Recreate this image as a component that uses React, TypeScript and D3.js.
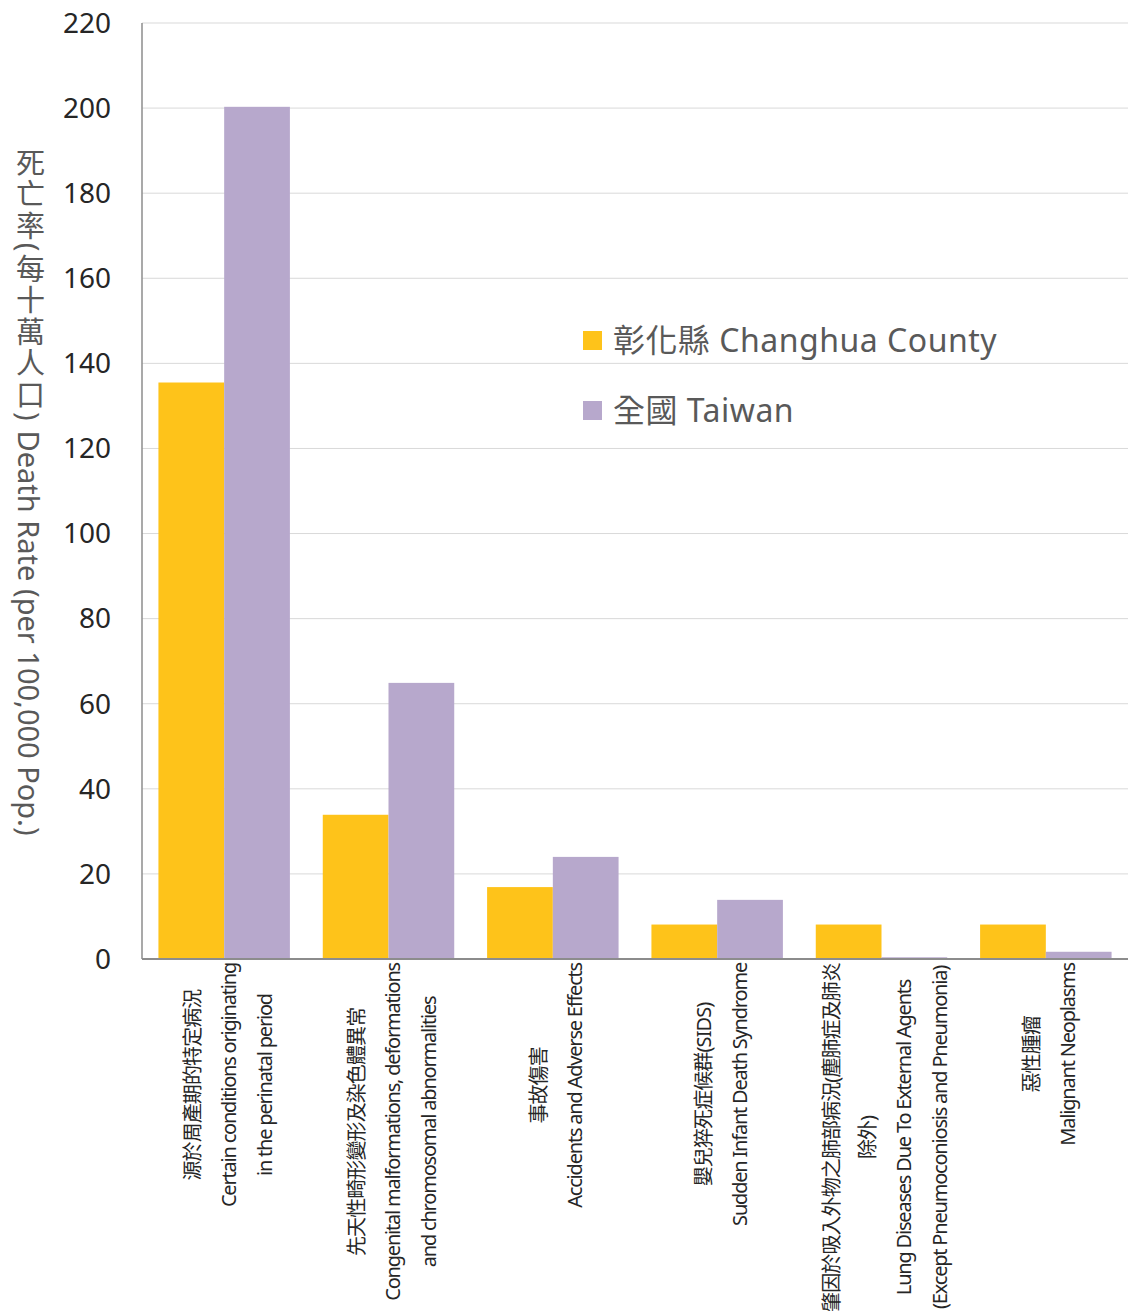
import React, { useEffect, useRef } from "react";
import * as d3 from "d3";

const categories = ["perinatal", "congenital", "accidents", "sids", "lung", "malignant"];
const categoryLabels: string[][] = [
  ["源於周產期的特定病況", "Certain conditions originating", "in the perinatal period"],
  ["先天性畸形變形及染色體異常", "Congenital malformations, deformations", "and chromosomal abnormalities"],
  ["事故傷害", "Accidents and Adverse Effects"],
  ["嬰兒猝死症候群(SIDS)", "Sudden Infant Death Syndrome"],
  ["肇因於吸入外物之肺部病況(塵肺症及肺炎", "除外)", "Lung Diseases Due To External Agents", "(Except Pneumoconiosis and Pneumonia)"],
  ["惡性腫瘤", "Malignant Neoplasms"],
];
const changhua = [135.5, 33.9, 16.9, 8.1, 8.1, 8.1];
const taiwan = [200.3, 64.9, 24.0, 13.9, 0.4, 1.7];
const seriesNames = ["彰化縣 Changhua County", "全國 Taiwan"];
const seriesColors = ["#FEC31A", "#B7A8CC"];
const yTicks = [0, 20, 40, 60, 80, 100, 120, 140, 160, 180, 200, 220];
const yTitleZh = "死亡率(每十萬人口)";
const yTitleEn = " Death Rate (per 100,000 Pop.)";

const W = 1128;
const H = 1311;
const FONT = "'Noto Sans', 'Noto Sans CJK TC', sans-serif";

export default function App() {
  const ref = useRef<SVGSVGElement>(null);

  useEffect(() => {
    const svg = d3.select(ref.current);
    svg.selectAll("*").remove();
    const left = 142, right = 1128, top = 23, bottom = 959;

    const y = d3.scaleLinear().domain([0, 220]).range([bottom, top]);
    const x0 = d3.scaleBand().domain(categories).range([left, right]).paddingInner(0.2).paddingOuter(0.1);
    const x1 = d3.scaleBand().domain(["c", "t"]).range([0, x0.bandwidth()]);

    // gridlines
    svg.append("g").selectAll("line").data(yTicks.filter((t) => t > 0)).join("line")
      .attr("x1", left).attr("x2", right)
      .attr("y1", (d) => y(d)).attr("y2", (d) => y(d))
      .attr("stroke", "#d9d9d9").attr("stroke-width", 1);

    // bars
    const g = svg.append("g");
    categories.forEach((c, i) => {
      const vals = [changhua[i], taiwan[i]];
      ["c", "t"].forEach((k, j) => {
        g.append("rect")
          .attr("x", (x0(c) as number) + (x1(k) as number))
          .attr("width", x1.bandwidth())
          .attr("y", y(vals[j]))
          .attr("height", y(0) - y(vals[j]))
          .attr("fill", seriesColors[j]);
      });
    });

    // axes
    svg.append("line").attr("x1", left).attr("x2", left).attr("y1", top).attr("y2", bottom)
      .attr("stroke", "#8c8c8c").attr("stroke-width", 1.5);
    svg.append("line").attr("x1", left).attr("x2", right).attr("y1", bottom).attr("y2", bottom)
      .attr("stroke", "#8c8c8c").attr("stroke-width", 2);

    // y tick labels
    svg.append("g").selectAll("text").data(yTicks).join("text")
      .attr("x", 111).attr("y", (d) => y(d)).attr("dy", "0.35em")
      .attr("text-anchor", "end")
      .attr("font-family", FONT).attr("font-size", 28).attr("fill", "#262626")
      .text((d) => String(d));

    // y title (vertical text)
    const yt = svg.append("text")
      .attr("x", 29).attr("y", 492)
      .attr("text-anchor", "middle")
      .attr("font-family", FONT).attr("font-size", 29).attr("fill", "#595959")
      .style("writing-mode", "vertical-rl");
    yt.append("tspan").attr("letter-spacing", "2.6px").text(yTitleZh);
    yt.append("tspan").text(yTitleEn);

    // x labels
    categories.forEach((c, i) => {
      const lines = categoryLabels[i];
      const cx = (x0(c) as number) + x0.bandwidth() / 2 + 4;
      const t = svg.append("text")
        .attr("text-anchor", "middle")
        .attr("font-family", FONT).attr("font-size", 20).attr("fill", "#262626");
      const n = lines.length;
      lines.forEach((ln, k) => {
        const isCjk = /[\u4e00-\u9fff]/.test(ln);
        t.append("tspan")
          .attr("x", 0).attr("y", (k - (n - 1) / 2) * 36)
          .attr("dominant-baseline", "central")
          .attr("letter-spacing", isCjk ? "-0.9px" : "-1.2px")
          .text(ln);
      });
      let maxLen = 0;
      t.selectAll<SVGTSpanElement, unknown>("tspan").each(function () {
        maxLen = Math.max(maxLen, this.getComputedTextLength());
      });
      t.attr("transform", `translate(${cx},${963 + maxLen / 2}) rotate(-90)`);
    });

    // legend
    const lg = svg.append("g");
    seriesNames.forEach((s, i) => {
      const yy = 340 + i * 70;
      lg.append("rect").attr("x", 583).attr("y", yy - 9).attr("width", 19).attr("height", 19)
        .attr("fill", seriesColors[i]);
      lg.append("text").attr("x", 613).attr("y", yy).attr("dy", "0.36em")
        .attr("font-family", FONT).attr("font-size", 32).attr("letter-spacing", "0.5px")
        .attr("fill", "#595959")
        .text(s);
    });
  }, []);

  return (
    <svg
      ref={ref}
      width={W}
      height={H}
      style={{ position: "absolute", left: 0, top: 0, background: "#fff" }}
    />
  );
}
